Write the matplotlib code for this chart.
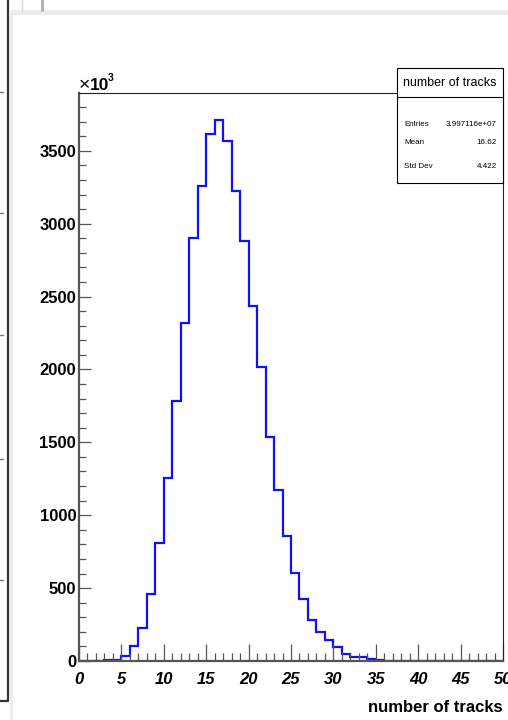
import numpy as np
import matplotlib
matplotlib.use('Agg')
import matplotlib.pyplot as plt
from matplotlib.patches import Rectangle
from matplotlib.lines import Line2D
from matplotlib.ticker import MultipleLocator

# histogram "number of tracks": 50 bins of width 1, counts in units of 10^3
bin_edges = np.arange(0, 51, 1)
counts_k = [1, 1, 2, 4, 10, 36, 103, 226, 460, 808,
            1258, 1787, 2322, 2905, 3260, 3617, 3711, 3564, 3226, 2878,
            2437, 2020, 1535, 1175, 855, 606, 423, 281, 201, 144,
            94, 48, 25, 25, 14, 5, 3, 0, 0, 0,
            0, 0, 0, 0, 0, 0, 0, 0, 0, 0]

stat_names = ['Entries', 'Mean', 'Std Dev']
stat_values = ['3.997116e+07', '16.62', '4.422']
hist_title = 'number of tracks'

W, H = 508, 720
fig = plt.figure(figsize=(W / 100, H / 100), dpi=100)
fig.patch.set_facecolor('white')


def fx(px):
    return px / W


def fy(py):
    return 1 - py / H


# bits of the window around the canvas
fig.add_artist(Rectangle((fx(13), fy(15)), fx(W - 13), 5 / H, transform=fig.transFigure,
                         facecolor='#eceeee', edgecolor='none'))
fig.add_artist(Rectangle((fx(10), 0), fx(3), fy(10), transform=fig.transFigure,
                         facecolor='#eceeee', edgecolor='none'))
fig.add_artist(Line2D([fx(22), fx(22)], [fy(0), fy(10)], transform=fig.transFigure,
                      color='#d8d8d8', lw=1))
fig.add_artist(Line2D([fx(42), fx(42)], [fy(0), fy(10)], transform=fig.transFigure,
                      color='#b0b0b0', lw=2))
fig.add_artist(Line2D([fx(8), fx(8), 0], [1, fy(701), fy(701)], transform=fig.transFigure,
                      color='#333333', lw=1.6))
for ty in [92, 213, 335, 459, 580]:
    fig.add_artist(Line2D([0, fx(3)], [fy(ty), fy(ty)], transform=fig.transFigure,
                          color='#777777', lw=1))

# main frame
ax_l, ax_r, ax_t, ax_b = 79, 503, 93, 661
ax = fig.add_axes([fx(ax_l), fy(ax_b), fx(ax_r - ax_l), (ax_b - ax_t) / H])
ax.stairs(counts_k, bin_edges, color='#1010ff', lw=1.6)

ax.set_xlim(0, 50)
ax.set_ylim(0, max(counts_k) * 1.05)

ax.xaxis.set_major_locator(MultipleLocator(5))
ax.xaxis.set_minor_locator(MultipleLocator(1))
ax.yaxis.set_major_locator(MultipleLocator(500))
ax.yaxis.set_minor_locator(MultipleLocator(100))

ax.tick_params(axis='x', which='major', direction='in', length=12, width=0.9,
               color='#555555', pad=8, labelsize=12)
ax.tick_params(axis='x', which='minor', direction='in', length=6, width=0.9,
               color='#555555')
ax.tick_params(axis='y', which='major', direction='in', length=8.6, width=0.9,
               color='#555555', pad=2, labelsize=12)
ax.tick_params(axis='y', which='minor', direction='in', length=5, width=0.9,
               color='#555555')

for lab in ax.get_xticklabels():
    lab.set_fontfamily('Liberation Sans')
    lab.set_fontweight('bold')
    lab.set_fontstyle('italic')
for lab in ax.get_yticklabels():
    lab.set_fontfamily('Liberation Sans')
    lab.set_fontweight('bold')

for side in ['left', 'bottom']:
    ax.spines[side].set_color('#555555')
    ax.spines[side].set_linewidth(1.6)
for side in ['top', 'right']:
    ax.spines[side].set_color('#222222')
    ax.spines[side].set_linewidth(0.8)

fig.text(fx(503), fy(708), 'number of tracks', ha='right', va='center',
         fontsize=12, fontweight='bold', family='Liberation Sans')
fig.text(fx(79), fy(86), '\u00d7', ha='left', va='center',
         fontsize=14, family='Liberation Sans')
fig.text(fx(90), fy(85), '10', ha='left', va='center',
         fontsize=12.5, fontweight='bold', family='Liberation Sans')
fig.text(fx(108), fy(78), '3', ha='left', va='center',
         fontsize=7.5, fontweight='bold', family='Liberation Sans')

# stats box
bx_l, bx_r, bx_t, bx_m, bx_b = 397, 503, 68, 97, 183
fig.add_artist(Rectangle((fx(bx_l), fy(bx_b)), fx(bx_r - bx_l), (bx_b - bx_t) / H,
                         transform=fig.transFigure, facecolor='white',
                         edgecolor='black', lw=0.8, zorder=5))
fig.add_artist(Line2D([fx(bx_l), fx(bx_r)], [fy(bx_m), fy(bx_m)],
                      transform=fig.transFigure, color='black', lw=0.8, zorder=6))
fig.text(fx((bx_l + bx_r) / 2), fy(83), hist_title, ha='center', va='center',
         fontsize=9, family='Liberation Sans', zorder=7)
row_y = [125, 143, 166]
for name, val, yy in zip(stat_names, stat_values, row_y):
    fig.text(fx(404), fy(yy), name, ha='left', va='center', fontsize=5.8,
             family='Liberation Sans', zorder=7)
    fig.text(fx(497), fy(yy), val, ha='right', va='center', fontsize=5.8,
             family='Liberation Sans', zorder=7)

fig.savefig('out.png', dpi=100)
